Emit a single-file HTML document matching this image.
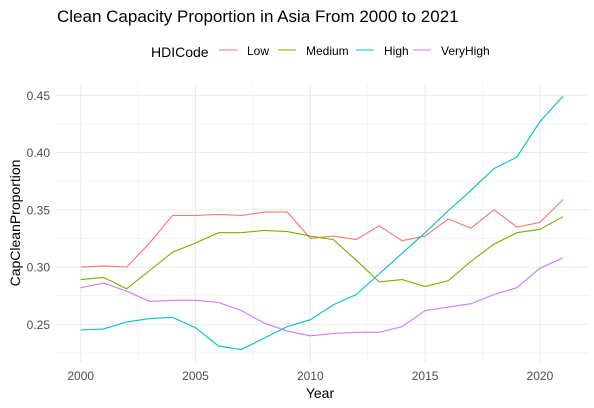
<!DOCTYPE html>
<html><head><meta charset="utf-8"><style>
html,body{margin:0;padding:0;background:#fff;}
svg{display:block;font-family:"Liberation Sans",Arial,sans-serif;}
</style></head><body>
<svg id="chart" width="594" height="408" viewBox="0 0 594 408">
<text x="57" y="22" font-size="17" fill="#000">Clean Capacity Proportion in Asia From 2000 to 2021</text>
<g id="legend">
<text x="151" y="57" font-size="14" fill="#000">HDICode</text>
</g>
<g id="grid"></g>
<g id="series"></g>
<g id="axes"></g>
<text x="320" y="398" font-size="14" fill="#000" text-anchor="middle">Year</text>
<text transform="translate(20,223) rotate(-90)" font-size="14" fill="#000" text-anchor="middle">CapCleanProportion</text>
</svg>
<script>
const years = [2000,2001,2002,2003,2004,2005,2006,2007,2008,2009,2010,2011,2012,2013,2014,2015,2016,2017,2018,2019,2020,2021];
const lowValues = [0.300,0.301,0.300,0.321,0.345,0.345,0.346,0.345,0.348,0.348,0.325,0.327,0.324,0.336,0.323,0.327,0.342,0.334,0.350,0.335,0.339,0.359];
const mediumValues = [0.289,0.291,0.281,0.297,0.313,0.321,0.330,0.330,0.332,0.331,0.327,0.324,0.306,0.287,0.289,0.283,0.288,0.305,0.320,0.330,0.333,0.344];
const highValues = [0.245,0.246,0.252,0.255,0.256,0.247,0.231,0.228,0.238,0.248,0.254,0.267,0.276,0.294,0.312,0.330,0.349,0.367,0.386,0.396,0.427,0.449];
const veryHighValues = [0.282,0.286,0.279,0.270,0.271,0.271,0.269,0.262,0.251,0.244,0.240,0.242,0.243,0.243,0.248,0.262,0.265,0.268,0.276,0.282,0.299,0.308];
const seriesNames = ["Low","Medium","High","VeryHigh"];
const seriesColors = ["#F8766D","#7CAE00","#00BFC4","#C77CFF"];
const yTicks = [0.25,0.30,0.35,0.40,0.45];
const yTickLabels = ["0.25","0.30","0.35","0.40","0.45"];
const yMinor = [0.225,0.275,0.325,0.375,0.425];
const xTicks = [2000,2005,2010,2015,2020];
const xTickLabels = ["2000","2005","2010","2015","2020"];
const xMinor = [2002.5,2007.5,2012.5,2017.5];

const NS = "http://www.w3.org/2000/svg";
const PL = 56, PR = 589, PT = 84, PB = 362;
function xScale(yr){ return 80.7 + (yr - 2000) * 22.96; }
function yScale(v){ return 95.3 + (0.45 - v) * 1145; }
function mk(tag, attrs, parent){ const e = document.createElementNS(NS, tag); for (const k in attrs) e.setAttribute(k, attrs[k]); parent.appendChild(e); return e; }

const grid = document.getElementById('grid');
const axes = document.getElementById('axes');
yMinor.forEach(v => {
  const l = mk('line', {x1:PL, x2:PR, y1:yScale(v), y2:yScale(v), stroke:'#f2f2f2', 'stroke-width':0.8}, grid);
  
  
});
xMinor.forEach(yr => {
  const l = mk('line', {x1:xScale(yr), x2:xScale(yr), y1:PT, y2:PB, stroke:'#f2f2f2', 'stroke-width':0.8}, grid);
  
  
});
yTicks.forEach((v, i) => {
  const l = mk('line', {x1:PL, x2:PR, y1:yScale(v), y2:yScale(v), stroke:'#ebebeb', 'stroke-width':1.1}, grid);
  
  
  const t = mk('text', {x:50, y:yScale(v)+4.5, 'font-size':12, fill:'#4d4d4d', 'text-anchor':'end'}, axes);
  t.textContent = yTickLabels[i];
  
  
});
xTicks.forEach((yr, i) => {
  const l = mk('line', {x1:xScale(yr), x2:xScale(yr), y1:PT, y2:PB, stroke:'#ebebeb', 'stroke-width':1.1}, grid);
  
  
  const t = mk('text', {x:xScale(yr), y:380, 'font-size':12, fill:'#4d4d4d', 'text-anchor':'middle'}, axes);
  t.textContent = xTickLabels[i];
  
  
});

const allValues = [lowValues, mediumValues, highValues, veryHighValues];
const series = document.getElementById('series');
allValues.forEach((vals, s) => {
  const pts = vals.map((v, i) => xScale(years[i]).toFixed(1) + ',' + yScale(v).toFixed(1)).join(' ');
  const p = mk('polyline', {points:pts, fill:'none', stroke:seriesColors[s], 'stroke-width':1.1}, series);
  
  
});

const legend = document.getElementById('legend');
const keyX = [219, 278, 356, 413];
seriesNames.forEach((n, s) => {
  const l = mk('line', {x1:keyX[s], x2:keyX[s]+18, y1:50, y2:50, stroke:seriesColors[s], 'stroke-width':1.1}, legend);
  
  
  const t = mk('text', {x:keyX[s]+28, y:55, 'font-size':12, fill:'#000'}, legend);
  t.textContent = n;
  
  
});
</script>
</body></html>
